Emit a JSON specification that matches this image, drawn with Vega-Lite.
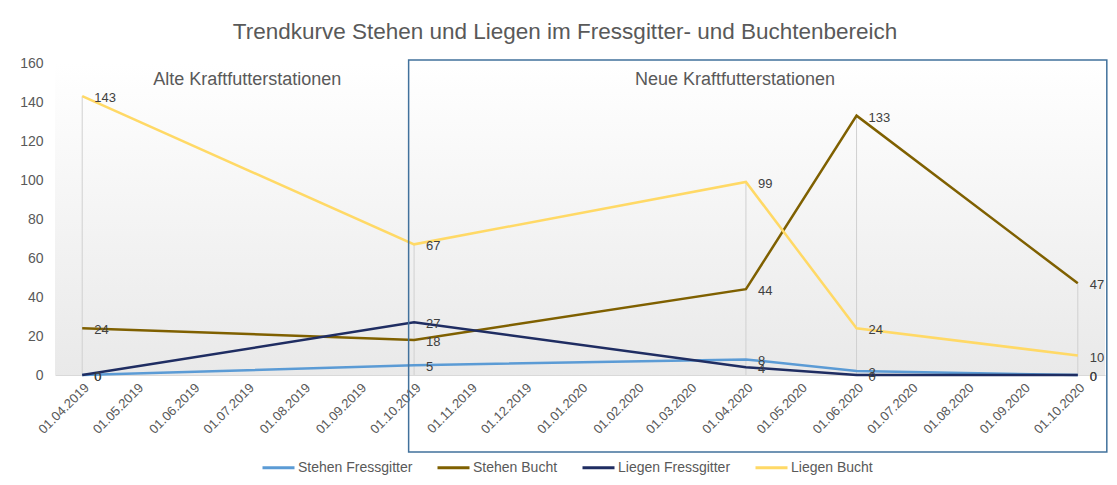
{
  "$schema": "https://vega.github.io/schema/vega-lite/v6.json",
  "width": 1050,
  "height": 312,
  "autosize": {"type": "none"},
  "padding": {"left": 55, "top": 63, "right": 12, "bottom": 110},
  "background": "white",
  "title": {
    "text": "Trendkurve Stehen und Liegen im Fressgitter- und Buchtenbereich",
    "font": "Liberation Sans",
    "fontSize": 22.5,
    "fontWeight": "normal",
    "color": "#595959",
    "anchor": "middle",
    "frame": "group",
    "dx": -15,
    "offset": 13
  },
  "config": {
    "view": {"stroke": null},
    "font": "Liberation Sans",
    "axis": {"labelOverlap": false, "ticks": false, "grid": false}
  },
  "datasets": {
    "main": [
      {"date": "2019-04-01", "series": "Stehen Fressgitter", "value": 0},
      {"date": "2019-10-01", "series": "Stehen Fressgitter", "value": 5},
      {"date": "2020-04-01", "series": "Stehen Fressgitter", "value": 8},
      {"date": "2020-06-01", "series": "Stehen Fressgitter", "value": 2},
      {"date": "2020-10-01", "series": "Stehen Fressgitter", "value": 0},
      {"date": "2019-04-01", "series": "Stehen Bucht", "value": 24},
      {"date": "2019-10-01", "series": "Stehen Bucht", "value": 18},
      {"date": "2020-04-01", "series": "Stehen Bucht", "value": 44},
      {"date": "2020-06-01", "series": "Stehen Bucht", "value": 133},
      {"date": "2020-10-01", "series": "Stehen Bucht", "value": 47},
      {"date": "2019-04-01", "series": "Liegen Fressgitter", "value": 0},
      {"date": "2019-10-01", "series": "Liegen Fressgitter", "value": 27},
      {"date": "2020-04-01", "series": "Liegen Fressgitter", "value": 4},
      {"date": "2020-06-01", "series": "Liegen Fressgitter", "value": 0},
      {"date": "2020-10-01", "series": "Liegen Fressgitter", "value": 0},
      {"date": "2019-04-01", "series": "Liegen Bucht", "value": 143},
      {"date": "2019-10-01", "series": "Liegen Bucht", "value": 67},
      {"date": "2020-04-01", "series": "Liegen Bucht", "value": 99},
      {"date": "2020-06-01", "series": "Liegen Bucht", "value": 24},
      {"date": "2020-10-01", "series": "Liegen Bucht", "value": 10}
    ],
    "periods": [
      {"period": "Alte Kraftfutterstationen", "from": "2019-03-17", "to": "2019-09-28", "mid": "2019-07-01"},
      {"period": "Neue Kraftfutterstationen", "from": "2019-09-28", "to": "2020-10-17", "mid": "2020-03-26"}
    ]
  },
  "data": {"name": "main"},
  "layer": [
    {
      "data": {"values": [{"from": "2019-03-17", "to": "2020-10-16", "top": 160, "bottom": 0}]},
      "mark": {
        "type": "rect",
        "fill": {
          "gradient": "linear",
          "x1": 0, "y1": 0, "x2": 0, "y2": 1,
          "stops": [
            {"offset": 0, "color": "#ffffff"},
            {"offset": 1, "color": "#e9e9e9"}
          ]
        }
      },
      "encoding": {
        "x": {
          "field": "from",
          "type": "temporal",
          "scale": {
            "type": "utc",
            "padding": 0,
            "domain": [
              {"year": 2019, "month": 3, "date": 17, "utc": true},
              {"year": 2020, "month": 10, "date": 16, "utc": true}
            ]
          },
          "axis": {
            "title": null,
            "format": "%d.%m.%Y",
            "tickCount": {"interval": "month", "step": 1},
            "labelAngle": -45,
            "labelFontSize": 13,
            "labelColor": "#595959",
            "labelOverlap": false,
            "labelPadding": 6,
            "ticks": false,
            "grid": false,
            "domainColor": "#d9d9d9"
          }
        },
        "x2": {"field": "to"},
        "y": {
          "field": "top",
          "type": "quantitative",
          "scale": {"domain": [0, 160], "nice": false, "padding": 0},
          "axis": {
            "title": null,
            "values": [0, 20, 40, 60, 80, 100, 120, 140, 160],
            "tickCount": 12,
            "labelOverlap": false,
            "labelFontSize": 14,
            "labelColor": "#595959",
            "labelPadding": 12,
            "ticks": false,
            "domain": false,
            "grid": false
          }
        },
        "y2": {"field": "bottom"}
      }
    },
    {
      "transform": [
        {"aggregate": [{"op": "max", "field": "value", "as": "maxv"}], "groupby": ["date"]}
      ],
      "mark": {"type": "bar", "width": 1, "color": "#d0d0d0"},
      "encoding": {
        "x": {"field": "date", "type": "temporal"},
        "y": {"field": "maxv", "type": "quantitative"}
      }
    },
    {
      "mark": {"type": "line", "strokeWidth": 2.5},
      "encoding": {
        "x": {"field": "date", "type": "temporal"},
        "y": {"field": "value", "type": "quantitative"},
        "color": {
          "field": "series",
          "type": "nominal",
          "scale": {
            "domain": ["Stehen Fressgitter", "Stehen Bucht", "Liegen Fressgitter", "Liegen Bucht"],
            "range": ["#5b9bd5", "#7f6000", "#1f2d62", "#ffd966"]
          },
          "legend": {
            "title": null,
            "orient": "none",
            "legendX": 206,
            "legendY": 387,
            "direction": "horizontal",
            "symbolType": "stroke",
            "symbolSize": 1024,
            "symbolStrokeWidth": 3,
            "labelFontSize": 14,
            "labelColor": "#595959",
            "labelOffset": 2,
            "columnPadding": 18
          }
        }
      }
    },
    {
      "mark": {"type": "text", "align": "left", "baseline": "middle", "dx": 12, "dy": 2, "fontSize": 13, "color": "#404040"},
      "encoding": {
        "x": {"field": "date", "type": "temporal"},
        "y": {"field": "value", "type": "quantitative"},
        "text": {"field": "value", "type": "quantitative"}
      }
    },
    {
      "data": {"values": [{"from": "2019-09-28", "to": "2020-10-17", "top": 161.5, "bottom": -39.5}]},
      "mark": {"type": "rect", "fillOpacity": 0, "stroke": "#41719c", "strokeWidth": 1.5},
      "encoding": {
        "x": {"field": "from", "type": "temporal"},
        "x2": {"field": "to"},
        "y": {"field": "top", "type": "quantitative"},
        "y2": {"field": "bottom"}
      }
    },
    {
      "data": {"name": "periods"},
      "mark": {"type": "text", "fontSize": 18, "color": "#595959", "align": "center", "baseline": "middle"},
      "encoding": {
        "x": {"field": "mid", "type": "temporal"},
        "y": {"datum": 151.3, "type": "quantitative"},
        "text": {"field": "period"}
      }
    }
  ]
}
